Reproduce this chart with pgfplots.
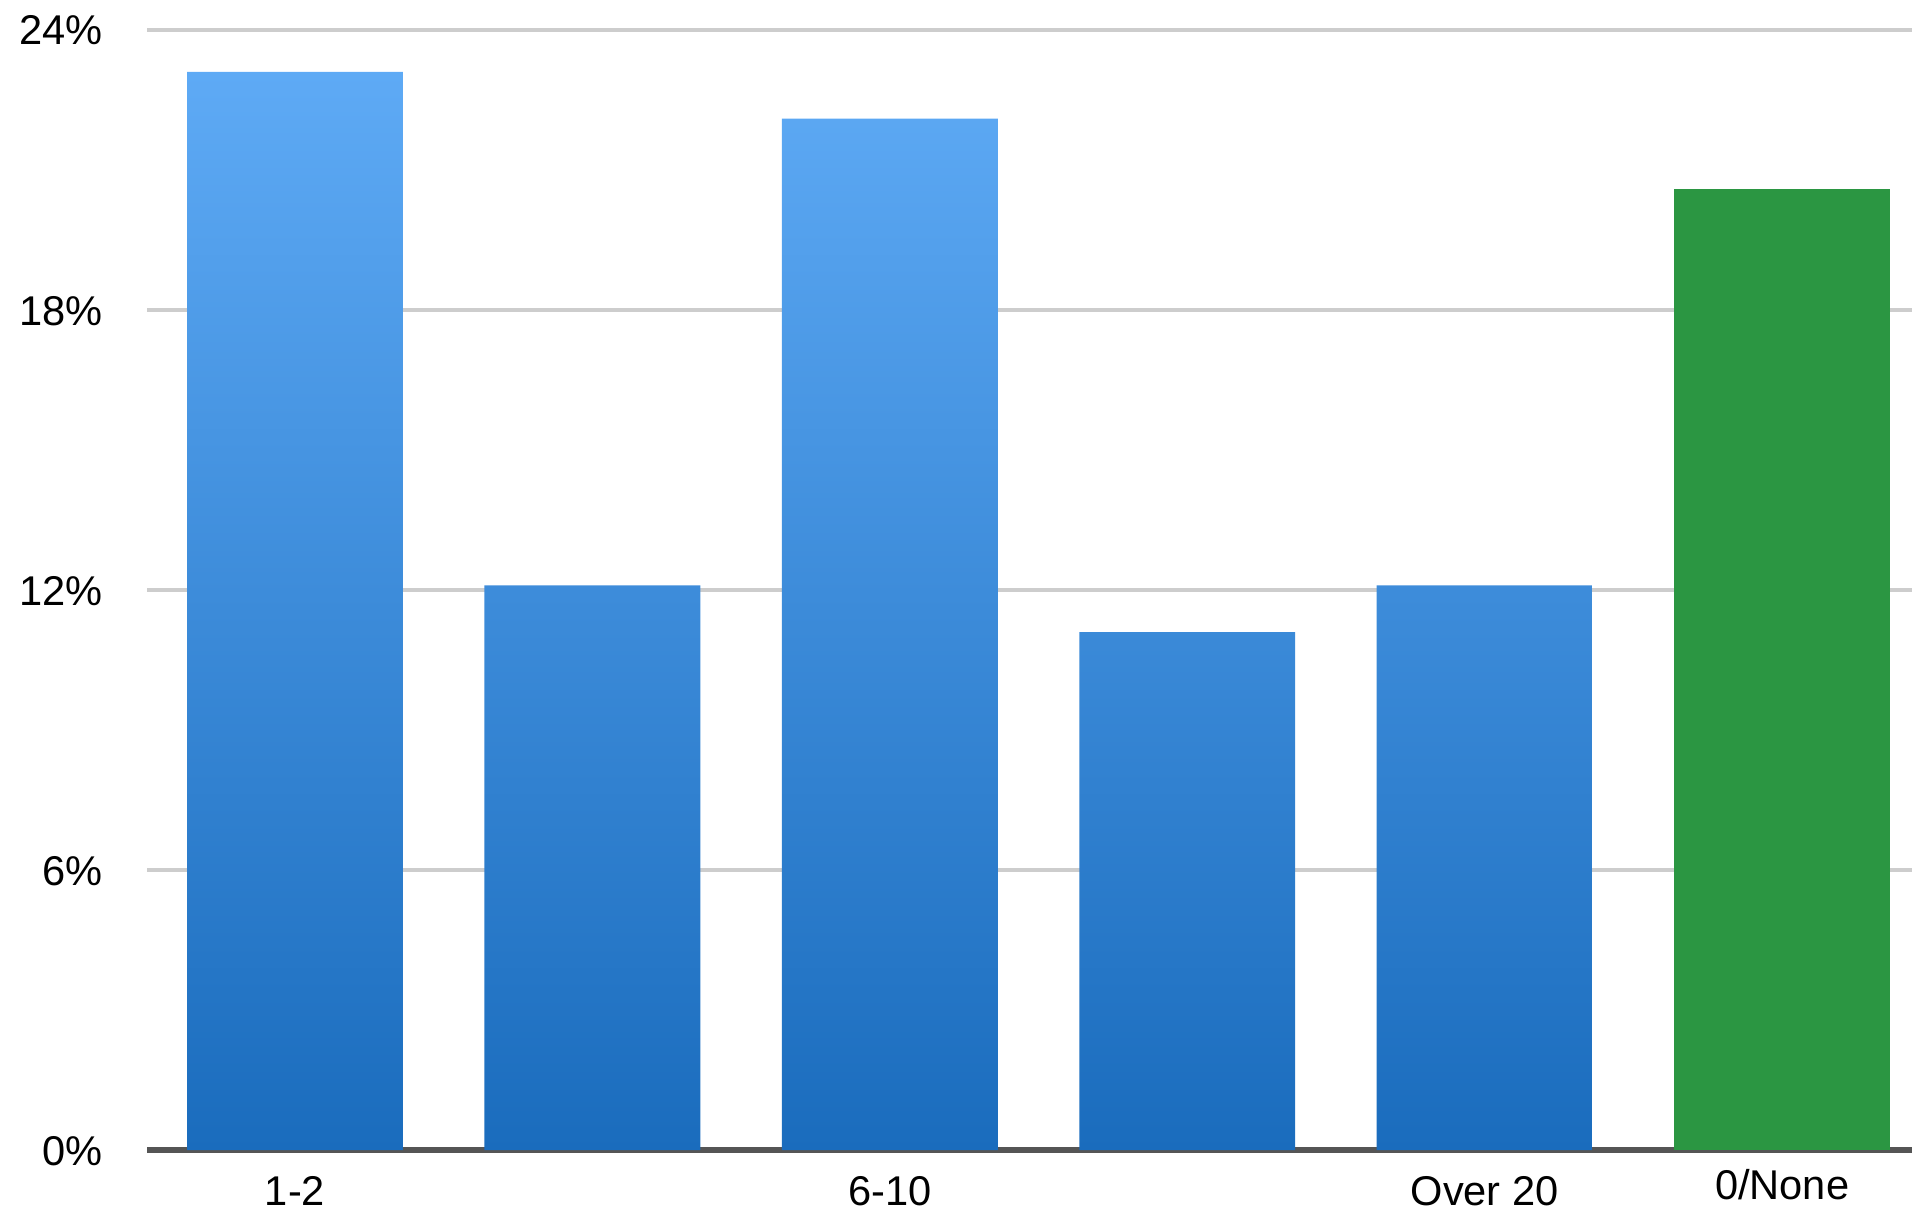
\documentclass[border=0pt]{standalone}
\usepackage{pgfplots}
\pgfplotsset{compat=1.18}
\usepackage{fontspec}
\setmainfont{Liberation Sans}

\definecolor{bartop}{HTML}{5EAAF5}
\definecolor{barbottom}{HTML}{1A6CBD}
\definecolor{nonegreen}{HTML}{2B9642}
\definecolor{gridgray}{HTML}{CDCDCD}
\definecolor{basegray}{HTML}{555555}

\begin{document}
\fontsize{10.4pt}{12.5pt}\selectfont
\begin{tikzpicture}
\useasboundingbox (0,0) rectangle (478pt,302.5pt);
\begin{axis}[
    at={(36.75pt,15pt)}, anchor=south west,
    scale only axis,
    width=441.25pt, height=280pt,
    xmin=-0.4977, xmax=5.437,
    ymin=0, ymax=24,
    ytick={0,6,12,18,24},
    yticklabels={0\%,6\%,12\%,18\%,24\%},
    xtick={0,1,2,3,4,5},
    xticklabels={1-2,,6-10,,Over 20,\raisebox{1.5pt}{0/None}},
    major tick length=0pt,
    axis x line=bottom,
    axis y line=left,
    x axis line style={-, color=basegray, line width=1.5pt},
    y axis line style={draw=none},
    ymajorgrids=true,
    grid style={color=gridgray, line width=1pt},
    yticklabel style={anchor=base east, inner sep=0pt, xshift=-10.9pt, yshift=-3.75pt},
    xticklabel style={anchor=base, inner sep=0pt, yshift=-13.8pt},
    ybar, bar width=0.726,
]

\addplot[bar shift=0pt, draw=none, top color=bartop, bottom color=barbottom]
    coordinates {(0,23.1) (1,12.1) (2,22.1) (3,11.1) (4,12.1)};

\addplot[bar shift=0pt, draw=none, fill=nonegreen]
    coordinates {(5,20.6)};

\end{axis}
\end{tikzpicture}
\end{document}
